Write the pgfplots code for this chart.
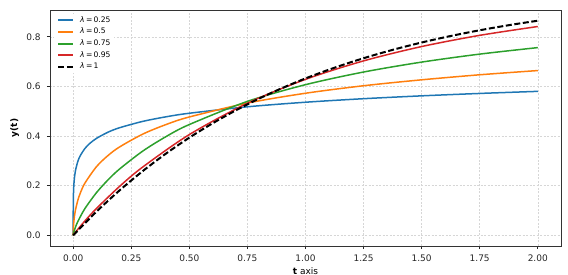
\documentclass[border=0pt]{standalone}
\usepackage{fontspec}
\setmainfont{DejaVu Sans}
\usepackage{pgfplots}
\pgfplotsset{compat=1.18}
\definecolor{cblue}{HTML}{1F77B4}
\definecolor{corange}{HTML}{FF7F0E}
\definecolor{cgreen}{HTML}{2CA02C}
\definecolor{cred}{HTML}{D62728}
\begin{document}
\begin{tikzpicture}
\begin{axis}[
  at={(0,0)}, anchor=south west,
  scale only axis, width=511pt, height=236pt,
  xmin=-0.1, xmax=2.1, ymin=-0.0432, ymax=0.9079,
  xtick={0,0.25,0.5,0.75,1,1.25,1.5,1.75,2},
  ytick={0,0.2,0.4,0.6,0.8},
  xticklabel style={/pgf/number format/.cd, fixed, fixed zerofill, precision=2, assume math mode=true},
  yticklabel style={/pgf/number format/.cd, fixed, fixed zerofill, precision=1, assume math mode=true},
  tick label style={font=\fontsize{9}{10}\selectfont, inner sep=0pt, text=black!85},
  xticklabel shift=6pt, yticklabel shift=6pt,
  tick align=outside, major tick length=3.1pt,
  tick style={black!85, line width=0.7pt},
  xtick pos=bottom, ytick pos=left,
  grid=major,
  major grid style={gray!32, line width=0.5pt, dash pattern=on 2pt off 1.5pt},
  axis line style={black!80, line width=0.8pt},
  xlabel={\textbf{t} axis}, ylabel={\textbf{y(t)}},
  label style={font=\fontsize{9}{10}\selectfont, inner sep=0pt},
  xlabel shift=5pt, ylabel shift=7pt,
  legend style={at={(0,1)}, anchor=north west, xshift=3.5pt, yshift=-4pt,
    draw=none, fill=white, font=\fontsize{7.6}{8.5}\selectfont,
    inner xsep=3.5pt, inner ysep=2.5pt, row sep=4.6pt,
    nodes={inner sep=0pt, text height=5.5pt, text depth=1.6pt}},
  legend cell align=left,
  legend image code/.code={\draw[#1, line width=2.1pt] (0pt,0pt) -- (15pt,0pt); \path (21pt,0pt);},
]
\addplot[cblue, line width=1.5pt, smooth] coordinates {
(0,0) (0.000001,0.0338) (0.00001,0.0587) (0.0001,0.1000) (0.001,0.1658) (0.003,0.2079) (0.005,0.2300) (0.01,0.2624) (0.02,0.2982) (0.03,0.3203) (0.05,0.3493) (0.07,0.3691) (0.1,0.3905) (0.15,0.4155) (0.2,0.4335) (0.3,0.4591) (0.4,0.4775) (0.5,0.4918) (0.75,0.5178) (1,0.5362) (1.25,0.5504) (1.5,0.5619) (1.75,0.5716) (2,0.5800)
};
\addlegendentry{{\itshape λ}\,=\,0.25}
\addplot[corange, line width=1.5pt, smooth] coordinates {
(0,0) (0.0002,0.0158) (0.001,0.0347) (0.002,0.0485) (0.005,0.0750) (0.01,0.1035) (0.02,0.1415) (0.03,0.1689) (0.05,0.2096) (0.1,0.2764) (0.15,0.3216) (0.2,0.3562) (0.3,0.4080) (0.4,0.4464) (0.5,0.4768) (0.75,0.5328) (1,0.5724) (1.25,0.6026) (1.5,0.6265) (1.75,0.6468) (2,0.6638)
};
\addlegendentry{{\itshape λ}\,=\,0.5}
\addplot[cgreen, line width=1.5pt, smooth] coordinates {
(0,0) (0.001,0.0061) (0.005,0.0202) (0.01,0.0337) (0.02,0.0558) (0.05,0.1071) (0.1,0.1717) (0.15,0.2235) (0.2,0.2674) (0.3,0.3397) (0.4,0.3979) (0.5,0.4464) (0.75,0.5396) (1,0.6069) (1.25,0.6579) (1.5,0.6979) (1.75,0.7301) (2,0.7563)
};
\addlegendentry{{\itshape λ}\,=\,0.75}
\addplot[cred, line width=1.5pt, smooth] coordinates {
(0,0) (0.01,0.0128) (0.05,0.0575) (0.1,0.1079) (0.2,0.1974) (0.3,0.2756) (0.5,0.4059) (0.75,0.5321) (1,0.6284) (1.25,0.7028) (1.5,0.7606) (1.75,0.8057) (2,0.8413)
};
\addlegendentry{{\itshape λ}\,=\,0.95}
\addplot[black, line width=2pt, smooth, dash pattern=on 6pt off 2.6pt] coordinates {
(0,0) (0.1,0.0952) (0.2,0.1813) (0.3,0.2592) (0.4,0.3297) (0.5,0.3935) (0.6,0.4512) (0.7,0.5034) (0.8,0.5507) (0.9,0.5934) (1,0.6321) (1.1,0.6671) (1.2,0.6988) (1.3,0.7275) (1.4,0.7534) (1.5,0.7769) (1.6,0.7981) (1.7,0.8173) (1.8,0.8347) (1.9,0.8504) (2,0.8647)
};
\addlegendentry{{\itshape λ}\,=\,1}
\end{axis}
\pgfresetboundingbox
\path (-50pt,-29pt) rectangle (518pt,246pt);
\end{tikzpicture}
\end{document}
